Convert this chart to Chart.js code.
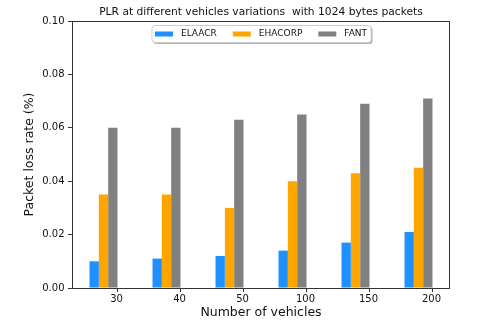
<!DOCTYPE html>
<html>
<head>
<meta charset="utf-8">
<script src="https://cdn.jsdelivr.net/npm/chart.js"></script>
<style>
  html, body { margin: 0; padding: 0; background: #fff; }
  #plr { display: block; }
</style>
</head>
<body>
<canvas id="plr" width="483" height="325"></canvas>
<script>
// vehicle counts on the x axis
const vehicleCounts = ['30', '40', '50', '100', '150', '200'];

// packet loss rate per scheme
const elaacr  = [0.010, 0.011, 0.012, 0.014, 0.017, 0.021];
const ehacorp = [0.035, 0.035, 0.030, 0.040, 0.043, 0.045];
const fant    = [0.060, 0.060, 0.063, 0.065, 0.069, 0.071];

const yTicks = [0, 0.02, 0.04, 0.06, 0.08, 0.10];

const chartTitle = 'PLR at different vehicles variations  with 1024 bytes packets';
const FONT = '"DejaVu Sans", sans-serif';
const TICK_SHIFT = 13;   // labels sit at the right edge of each group

// frame, x tick marks, title and the inline legend
const decorations = {
  id: 'decorations',
  afterDraw(chart) {
    const { ctx, chartArea: a, scales: { x } } = chart;
    ctx.save();
    ctx.strokeStyle = '#333';
    ctx.lineWidth = 1;
    ctx.strokeRect(a.left + 0.5, a.top + 0.5, a.right - a.left - 1, a.bottom - a.top);

    ctx.beginPath();
    vehicleCounts.forEach((_, i) => {
      const px = Math.round(x.getPixelForValue(i) + TICK_SHIFT) + 0.5;
      ctx.moveTo(px, a.bottom);
      ctx.lineTo(px, a.bottom + 4);
    });
    ctx.stroke();

    // title
    ctx.fillStyle = '#111';
    ctx.font = '10.7px ' + FONT;
    ctx.textAlign = 'center';
    ctx.textBaseline = 'middle';
    ctx.fillText(chartTitle, (a.left + a.right) / 2, 12);

    // legend box
    ctx.font = '9px ' + FONT;
    const handleW = 18, handleH = 5, textPad = 8, colGap = 16, boxPad = 3.5;
    const items = chart.data.datasets.map(ds => ({
      label: ds.label, color: ds.backgroundColor, w: ctx.measureText(ds.label).width
    }));
    let inner = items.reduce((s, it) => s + handleW + textPad + it.w, 0) + colGap * (items.length - 1);
    const boxW = inner + boxPad * 2;
    const boxH = 17;
    const boxX = (a.left + a.right) / 2 - boxW / 2;
    const boxY = 25;

    ctx.fillStyle = 'rgba(0,0,0,0.3)';
    ctx.beginPath();
    ctx.roundRect(boxX + 2, boxY + 2, boxW, boxH, 3);
    ctx.fill();
    ctx.fillStyle = '#fff';
    ctx.strokeStyle = '#cccccc';
    ctx.beginPath();
    ctx.roundRect(boxX + 0.5, boxY + 0.5, boxW, boxH, 3);
    ctx.fill();
    ctx.stroke();

    let cx = boxX + boxPad;
    const cy = boxY + boxH / 2 + 0.5;
    ctx.textAlign = 'left';
    items.forEach(it => {
      ctx.fillStyle = it.color;
      ctx.fillRect(cx, cy - handleH / 2, handleW, handleH);
      cx += handleW + textPad;
      ctx.fillStyle = '#111';
      ctx.fillText(it.label, cx, cy);
      cx += it.w + colGap;
    });
    ctx.restore();
  }
};

new Chart(document.getElementById('plr'), {
  type: 'bar',
  data: {
    labels: vehicleCounts,
    datasets: [
      { label: 'ELAACR',  data: elaacr,  backgroundColor: '#1e90ff' },
      { label: 'EHACORP', data: ehacorp, backgroundColor: '#ffa500' },
      { label: 'FANT',    data: fant,    backgroundColor: '#808080' }
    ]
  },
  options: {
    responsive: false,
    animation: false,
    layout: { padding: { top: 21, right: 33, left: 0, bottom: 0 } },
    datasets: {
      bar: { categoryPercentage: 0.444, barPercentage: 1.0, borderWidth: 0 }
    },
    plugins: {
      legend: { display: false },
      title: { display: false },
      tooltip: { enabled: false }
    },
    scales: {
      x: {
        grid: { display: false, tickLength: 4 },
        border: { display: false },
        ticks: {
          color: '#111',
          font: { family: FONT, size: 10 },
          labelOffset: TICK_SHIFT,
          padding: 1,
          maxRotation: 0
        },
        title: {
          display: true,
          text: 'Number of vehicles',
          color: '#111',
          font: { family: FONT, size: 12.5 },
          padding: { top: 0, bottom: 4.5 }
        },
        afterFit(scale) { scale.height = 37; }
      },
      y: {
        min: 0,
        max: 0.1,
        afterBuildTicks(scale) { scale.ticks = yTicks.map(v => ({ value: v })); },
        grid: { drawOnChartArea: false, drawTicks: true, tickLength: 4, color: '#333' },
        border: { display: false },
        ticks: {
          color: '#111',
          font: { family: FONT, size: 10 },
          padding: 3.5,
          callback: v => v.toFixed(2)
        },
        title: {
          display: true,
          text: 'Packet loss rate (%)',
          color: '#111',
          font: { family: FONT, size: 12.5 },
          padding: { top: 22.5, bottom: 0 }
        },
        afterFit(scale) { scale.width = 72; }
      }
    }
  },
  plugins: [decorations]
});
</script>
</body>
</html>
